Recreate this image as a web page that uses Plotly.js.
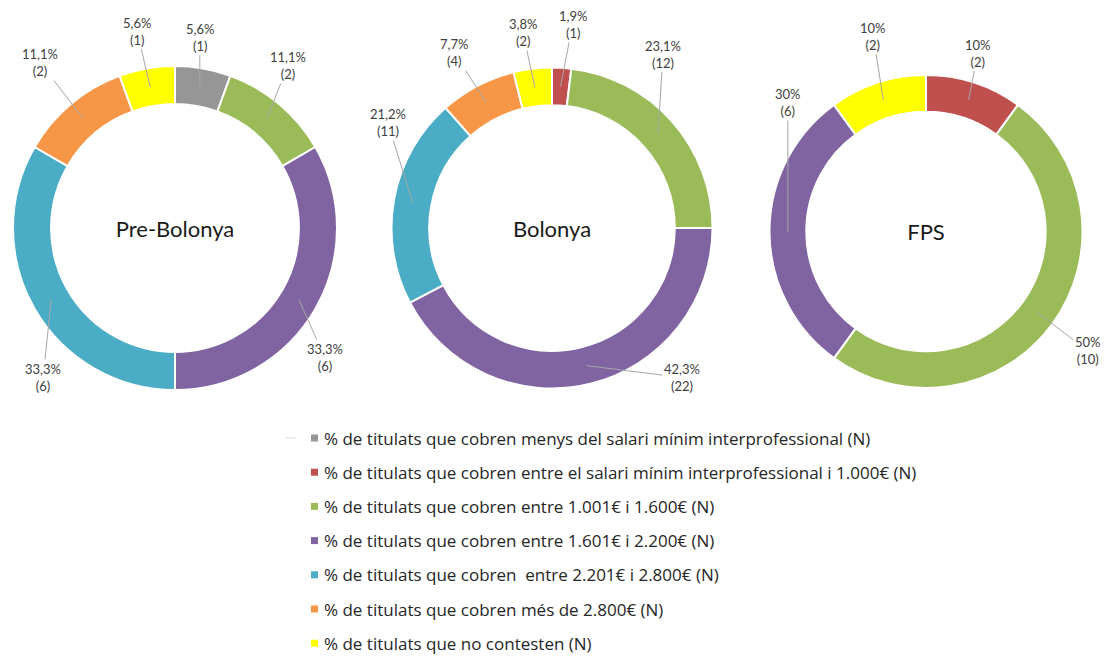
<!DOCTYPE html>
<html>
<head>
<meta charset="utf-8">
<script src="https://cdn.plot.ly/plotly-3.0.1.min.js"></script>
<style>
  html, body { margin: 0; padding: 0; background: #ffffff; }
  #chart { width: 1109px; height: 657px; }
</style>
</head>
<body>
<div id="chart"></div>
<script>
// ---------- DATA ----------
const categories = [
  "% de titulats que cobren menys del salari mínim interprofessional (N)",
  "% de titulats que cobren entre el salari mínim interprofessional i 1.000€ (N)",
  "% de titulats que cobren entre 1.001€ i 1.600€ (N)",
  "% de titulats que cobren entre 1.601€ i 2.200€ (N)",
  "% de titulats que cobren  entre 2.201€ i 2.800€ (N)",
  "% de titulats que cobren més de 2.800€ (N)",
  "% de titulats que no contesten (N)"
];
const chartNames = ["Pre-Bolonya", "Bolonya", "FPS"];
const preBolonyaValues = [1, 0, 2, 6, 6, 2, 1];
const bolonyaValues    = [0, 1, 12, 22, 11, 4, 2];
const fpsValues        = [0, 2, 10, 6, 0, 0, 2];

// ---------- STYLE / LAYOUT ----------
const W = 1109, H = 657;
const colors = ["#969696", "#C0504D", "#9BBB59", "#8064A2", "#4BACC6", "#F79646", "#FFFF00"];
const HOLE = 0.765;
// donut geometry in pixels: [centerX, centerY, outerRadius]
const geom = [[175, 228, 162], [552, 228, 160.5], [926, 231.5, 156.5]];
// label offsets (px) from the leader-line anchor, per category
const labelOffsets = [
  [[0,-50], null, [21,-53], [26,58], [-8,78], [-43,-56], [-13,-56]],
  [null, [12,-62], [5,-80], [96,12], [-25,-80], [-32,-50], [-12,-55]],
  [null, [9,-47], [50,38], [0,-129], null, null, [-10,-64]]
];
const allValues = [preBolonyaValues, bolonyaValues, fpsValues];

const px = v => v / W;
const py = v => 1 - v / H;

function fmtPct(v, total) {
  const p = Math.round(v / total * 1000) / 10;
  let s = p.toFixed(1).replace(".", ",");
  if (s.endsWith(",0")) s = s.slice(0, -2);
  return s + "%";
}

const traces = [];
const annotations = [];
const shapes = [];

allValues.forEach((vals, ci) => {
  const [cx, cy, R] = geom[ci];
  const labs = [], vs = [], cols = [];
  vals.forEach((v, i) => { if (v > 0) { labs.push(categories[i]); vs.push(v); cols.push(colors[i]); } });
  traces.push({
    type: "pie",
    labels: labs,
    values: vs,
    sort: false,
    direction: "clockwise",
    rotation: 0,
    hole: HOLE,
    textinfo: "none",
    hoverinfo: "label+value+percent",
    showlegend: false,
    marker: { colors: cols, line: { color: "#ffffff", width: 2 } },
    domain: { x: [px(cx - R), px(cx + R)], y: [py(cy + R), py(cy - R)] },
    title: { text: chartNames[ci], position: "middle center",
             font: { family: "Lato, 'Open Sans', sans-serif", size: 22, color: "#1a1a1a" } }
  });

  // labels with leader lines
  const total = vals.reduce((a, b) => a + b, 0);
  const rMid = R * (1 + HOLE) / 2;
  let cum = 0;
  vals.forEach((v, i) => {
    if (v <= 0) return;
    const mid = (cum + v / 2) / total * 2 * Math.PI;
    cum += v;
    const ax0 = cx + rMid * Math.sin(mid);
    const ay0 = cy - rMid * Math.cos(mid);
    const off = labelOffsets[ci][i] || [0, -50];
    annotations.push({
      xref: "paper", yref: "paper",
      x: px(ax0), y: py(ay0),
      ax: off[0], ay: off[1],
      text: fmtPct(v, total) + "<br>(" + v + ")",
      showarrow: true, arrowhead: 0, arrowwidth: 1, arrowcolor: "#A6A6A6",
      standoff: 0, startstandoff: 0,
      font: { family: "Lato, 'Open Sans', sans-serif", size: 13, color: "#404040" },
      align: "center", borderpad: 1
    });
  });
});

// ---------- LEGEND (manual, vertical) ----------
const legX = 311, legTextX = 322, legY0 = 438, legStep = 34.2, sq = 7;
categories.forEach((c, i) => {
  const yc = legY0 + i * legStep;
  shapes.push({
    type: "rect", xref: "paper", yref: "paper",
    x0: px(legX), x1: px(legX + sq), y0: py(yc + sq / 2), y1: py(yc - sq / 2),
    fillcolor: colors[i], line: { width: 0 }
  });
  annotations.push({
    xref: "paper", yref: "paper", x: px(legTextX), y: py(yc),
    xanchor: "left", yanchor: "middle", showarrow: false,
    text: c,
    font: { family: "'Open Sans', Lato, sans-serif", size: 17, color: "#262626" }
  });
});
// faint dash left of the first legend entry
shapes.push({
  type: "line", xref: "paper", yref: "paper",
  x0: px(285), x1: px(296), y0: py(legY0), y1: py(legY0),
  line: { color: "#D9D9D9", width: 1 }
});

const layout = {
  width: W, height: H,
  margin: { l: 0, r: 0, t: 0, b: 0, pad: 0 },
  paper_bgcolor: "#ffffff",
  showlegend: false,
  annotations: annotations,
  shapes: shapes,
  font: { family: "Lato, 'Open Sans', sans-serif" }
};

Plotly.newPlot("chart", traces, layout, { displayModeBar: false, staticPlot: true });
</script>
</body>
</html>
